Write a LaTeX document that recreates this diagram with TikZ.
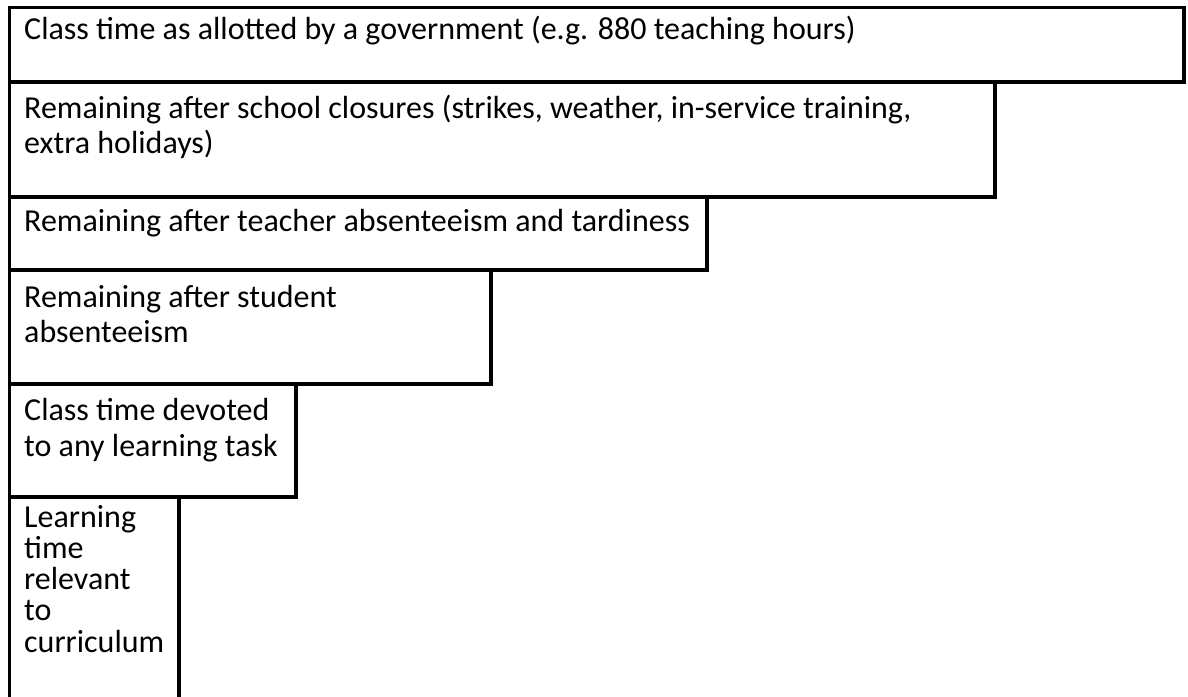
\documentclass[tikz,border=0pt]{standalone}
\usepackage{fontspec}
\setmainfont{Carlito}
\begin{document}
\begin{tikzpicture}[x=1pt,y=-1pt,
  stepbox/.style={draw=black,line width=3.4pt,fill=none},
  boxtext/.style={anchor=base west,inner sep=0pt,align=left,font=\fontsize{32}{34}\selectfont}]
\useasboundingbox[fill=white] (0,0) rectangle (1188,696);
\begin{scope}
\clip (0,0) rectangle (1188,696);
\draw[stepbox] (9.5,7.5) rectangle (1184,82);
\draw[stepbox] (9.5,82) rectangle (995,197);
\draw[stepbox] (9.5,197) rectangle (707,270);
\draw[stepbox] (9.5,270) rectangle (491,384);
\draw[stepbox] (9.5,384) rectangle (296,497);
\draw[stepbox] (9.5,497) rectangle (179,720);
\end{scope}
\node[boxtext] (t1) at (24,39) {Class time as allotted by a government (e.g. 880 teaching hours)};
\node[boxtext] (t2) at (24,118) {Remaining after school closures (strikes, weather, in-service training,};
\node[boxtext] (t2b) at (24,153) {extra holidays)};
\node[boxtext] (t3) at (24,231) {Remaining after teacher absenteeism and tardiness};
\node[boxtext] (t4) at (24,307) {Remaining after student};
\node[boxtext] (t4b) at (24,342) {absenteeism};
\node[boxtext] (t5) at (24,420) {Class time devoted};
\node[boxtext] (t5b) at (24,456) {to any learning task};
\node[boxtext] (t6) at (24,527) {Learning};
\node[boxtext] (t6b) at (24,558) {time};
\node[boxtext] (t6c) at (24,589) {relevant};
\node[boxtext] (t6d) at (24,620) {to};
\node[boxtext] (t6e) at (24,652) {curriculum};
\end{tikzpicture}
\end{document}
